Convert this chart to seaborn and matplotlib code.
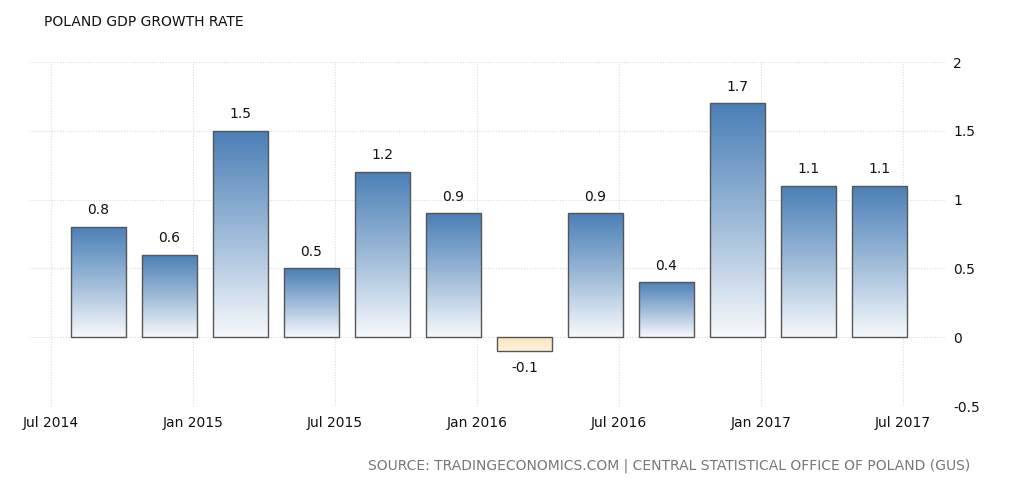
import numpy as np
import pandas as pd
import matplotlib
matplotlib.use("Agg")
import matplotlib.pyplot as plt
from matplotlib.colors import LinearSegmentedColormap
import seaborn as sns

# ---- data ----
quarters = ["2014Q3", "2014Q4", "2015Q1", "2015Q2", "2015Q3", "2015Q4",
            "2016Q1", "2016Q2", "2016Q3", "2016Q4", "2017Q1", "2017Q2"]
growth = [0.8, 0.6, 1.5, 0.5, 1.2, 0.9, -0.1, 0.9, 0.4, 1.7, 1.1, 1.1]
tick_labels = ["Jul 2014", "Jan 2015", "Jul 2015", "Jan 2016",
               "Jul 2016", "Jan 2017", "Jul 2017"]
y_ticks = [-0.5, 0, 0.5, 1, 1.5, 2]

# month index relative to Jul 2014 (bars placed at last month of quarter)
base = pd.Period("2014-07", freq="M")
per = [pd.Period(q, freq="Q").asfreq("M", how="end") for q in quarters]
months = [(p - base).n for p in per]
tick_pos = [(pd.Period(pd.to_datetime(t, format="%b %Y"), freq="M") - base).n for t in tick_labels]

df = pd.DataFrame({"month": months, "growth": growth})

sns.set_style("white")
plt.rcParams["font.family"] = ["DejaVu Sans"]

fig = plt.figure(figsize=(10.24, 4.82), dpi=100)
ax = fig.add_axes([29 / 1024, 1 - 406 / 482, (945 - 29) / 1024, (406 - 62) / 482])

sns.barplot(data=df, x="month", y="growth", native_scale=True, width=0.78,
            color="#4a80b8", edgecolor="#555555", linewidth=1.0, ax=ax, zorder=3)

blue_cmap = LinearSegmentedColormap.from_list("b", ["#f7f9fc", "#9dbad8", "#4a7fb6"])
orange_cmap = LinearSegmentedColormap.from_list("o", ["#fdf1dc", "#fbe4bb"])
grad = np.linspace(0, 1, 256).reshape(-1, 1)

for patch in list(ax.patches):
    x, y = patch.get_x(), patch.get_y()
    w, h = patch.get_width(), patch.get_height()
    y0, y1 = min(y, y + h), max(y, y + h)
    val = y + h if h >= 0 else y + h
    if h >= 0:
        cmap = blue_cmap
        data = grad
    else:
        cmap = orange_cmap
        data = grad
    im = ax.imshow(data, extent=[x, x + w, y0, y1], origin="lower", cmap=cmap,
                   aspect="auto", zorder=2.5, interpolation="bilinear")
    im.set_clip_path(patch)
    patch.set_facecolor("none")

# value labels
for m, v in zip(months, growth):
    if v >= 0:
        ax.text(m, v + 0.07, f"{v:g}", ha="center", va="bottom", fontsize=10, color="#111111")
    else:
        ax.text(m, v - 0.07, f"{v:g}", ha="center", va="top", fontsize=10, color="#111111")

ax.set_xlim(-0.93, 37.77)
ax.set_ylim(-0.5, 2)
ax.set_xticks(tick_pos)
ax.set_xticklabels(tick_labels)
ax.set_yticks(y_ticks)
ax.set_yticklabels([f"{t:g}" for t in y_ticks])
ax.yaxis.tick_right()
ax.tick_params(axis="both", length=0, labelsize=10, colors="#111111")
ax.tick_params(axis="y", pad=6)
ax.tick_params(axis="x", pad=7)
ax.set_xlabel("")
ax.set_ylabel("")
for s in ax.spines.values():
    s.set_visible(False)
ax.grid(True, axis="both", linestyle=(0, (1, 1.5)), color="#d9d9d9", linewidth=0.8, zorder=0)
ax.set_axisbelow(True)

fig.text(44 / 1024, 1 - 22 / 482, "POLAND GDP GROWTH RATE", ha="left", va="center",
         fontsize=10, color="#111111")
fig.text(970 / 1024, 1 - 466 / 482,
         "SOURCE: TRADINGECONOMICS.COM | CENTRAL STATISTICAL OFFICE OF POLAND (GUS)",
         ha="right", va="center", fontsize=10, color="#777777")

fig.savefig("out.png", dpi=100)
